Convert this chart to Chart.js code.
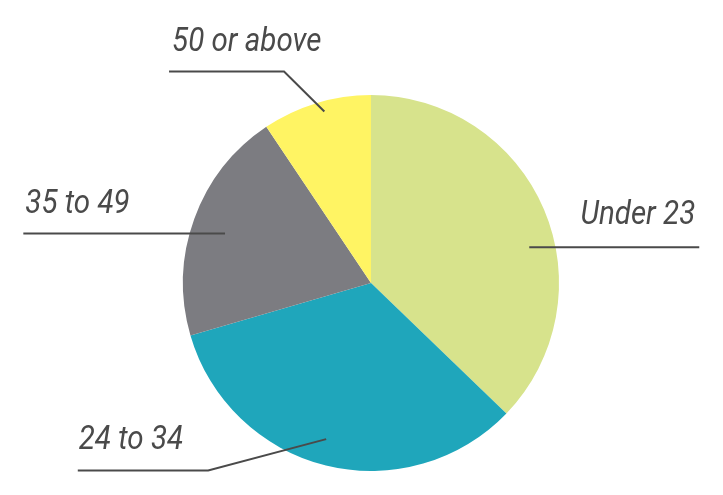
<!DOCTYPE html>
<html>
<head>
<meta charset="utf-8">
<script src="https://cdn.jsdelivr.net/npm/chart.js@4/dist/chart.umd.min.js"></script>
<style>
html,body{margin:0;padding:0;background:#fff;}
#wrap{width:723px;height:495px;}
</style>
</head>
<body>
<div id="wrap"><canvas id="c" width="723" height="495"></canvas></div>
<script>
const categories = ["Under 23", "24 to 34", "35 to 49", "50 or above"];
const shares = [37.2, 33.3, 20.1, 9.4];
const colors = ["#d7e38c", "#1fa6bb", "#7c7c81", "#fff463"];

// label leader layout (annotation styling only)
const labelLayout = [
  {t:0.577, rf:0.863, elbow:null, len:170, dir:1, textGap:23, textInset:4},
  {t:0.518, rf:0.864, elbow:{dx:-118, dy:31.3}, len:130.4, dir:-1, textGap:21, textInset:1},
  {t:0.483, rf:0.82, elbow:null, len:201.7, dir:-1, textGap:20, textInset:2},
  {t:0.55, rf:0.945, elbow:{dx:-40.3, dy:-40}, len:115, dir:-1, textGap:21, textInset:3}
];

const leaderPlugin = {
  id:'leaders',
  afterDatasetsDraw(chart){
    const ctx = chart.ctx;
    const arcs = chart.getDatasetMeta(0).data;
    ctx.save();
    ctx.strokeStyle = '#4a4a4a';
    ctx.fillStyle = '#4a4a4a';
    ctx.lineWidth = 2;
    ctx.lineJoin = 'miter';
    arcs.forEach((arc, i) => {
      const L = labelLayout[i];
      const p = arc.getProps(['x','y','startAngle','endAngle','outerRadius'], true);
      const a = p.startAngle + (p.endAngle - p.startAngle) * L.t;
      const r = p.outerRadius * L.rf;
      const ax = p.x + Math.cos(a) * r;
      const ay = p.y + Math.sin(a) * r;
      let ex = ax, ey = ay;
      ctx.beginPath();
      ctx.moveTo(ax, ay);
      if (L.elbow){ ex = ax + L.elbow.dx; ey = ay + L.elbow.dy; ctx.lineTo(ex, ey); }
      const endX = ex + L.dir * L.len;
      ctx.lineTo(endX, ey);
      ctx.stroke();
      // text
      const txt = categories[i];
      ctx.font = 'italic 33px Roboto';
      const sx = 0.895;
      const w = ctx.measureText(txt).width * sx;
      const ty = ey - L.textGap;
      let tx;
      if (L.dir === 1) tx = endX - L.textInset - w; else tx = endX + L.textInset;
      ctx.save();
      ctx.translate(tx, ty);
      ctx.scale(sx, 1);
      ctx.textBaseline = 'alphabetic';
      ctx.textAlign = 'left';
      ctx.fillText(txt, 0, 0);
      ctx.restore();
    });
    ctx.restore();
  }
};

new Chart(document.getElementById('c'), {
  type:'pie',
  data:{
    labels: categories,
    datasets:[{data: shares, backgroundColor: colors, borderWidth:0, hoverOffset:0}]
  },
  options:{
    responsive:false,
    animation:false,
    layout:{padding:{top:95,bottom:24,left:183,right:164}},
    plugins:{legend:{display:false}, tooltip:{enabled:false}}
  },
  plugins:[leaderPlugin]
});
</script>
</body>
</html>
